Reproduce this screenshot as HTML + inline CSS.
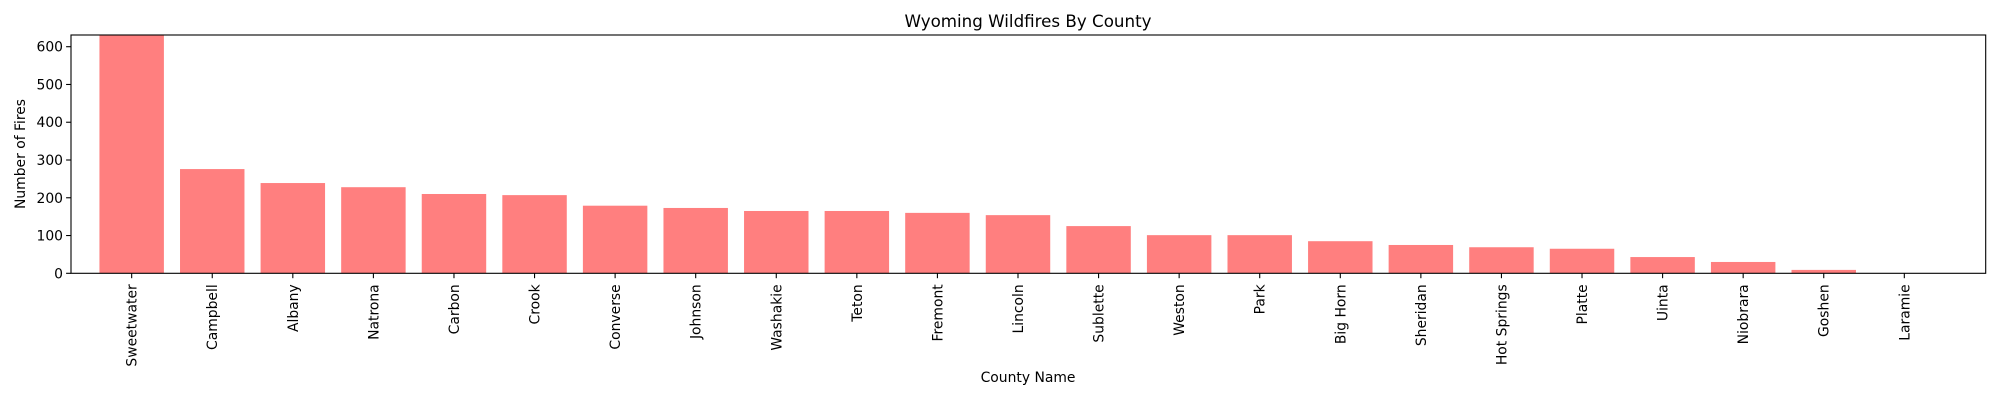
<!DOCTYPE html>
<html><head><meta charset="utf-8"><style>
html,body{margin:0;padding:0;background:#fff;}
svg{display:block;font-family:"DejaVu Sans","Liberation Sans",sans-serif;}
</style></head><body>
<svg id="chart" width="2000" height="400" viewBox="0 0 2000 400" xmlns="http://www.w3.org/2000/svg">
<rect width="2000" height="400" fill="#fff"/>
<text x="1028" y="27" font-size="16.7" text-anchor="middle" fill="#000">Wyoming Wildfires By County</text>
<g id="bars"></g>
<g id="yticks"></g>
<g id="xticks"></g>
<rect x="71" y="35" width="1914.7" height="238.3" fill="none" stroke="#000" stroke-width="1.1"/>
<text x="0" y="0" font-size="13.9" text-anchor="middle" transform="translate(25,154) rotate(-90)">Number of Fires</text>
<text x="1028" y="382" font-size="13.9" text-anchor="middle">County Name</text>
</svg>
<script>
const counties = ["Sweetwater","Campbell","Albany","Natrona","Carbon","Crook","Converse","Johnson","Washakie","Teton","Fremont","Lincoln","Sublette","Weston","Park","Big Horn","Sheridan","Hot Springs","Platte","Uinta","Niobrara","Goshen","Laramie"];
const fires = [631,276,239,228,210,207,179,173,165,165,160,154,125,101,101,85,75,69,65,43,30,9,0];
const yTickValues = [0,100,200,300,400,500,600];
const yTickLabels = ["0","100","200","300","400","500","600"];

const NS = "http://www.w3.org/2000/svg";
const plotL = 71, plotR = 1985.7, plotT = 35, plotB = 273.3;
const xMin = -0.753, xMax = 23.01;
const yMax = 631;
function xs(v){ return plotL + (v - xMin) / (xMax - xMin) * (plotR - plotL); }
function ys(v){ return plotB - v / yMax * (plotB - plotT); }

const bars = document.getElementById('bars');
const xt = document.getElementById('xticks');
const yt = document.getElementById('yticks');

counties.forEach((c, i) => {
  const v = Math.min(fires[i], yMax);
  const r = document.createElementNS(NS, 'rect');
  
  
  const x0 = xs(i - 0.4), x1 = xs(i + 0.4);
  r.setAttribute('x', x0);
  r.setAttribute('width', x1 - x0);
  r.setAttribute('y', ys(v));
  r.setAttribute('height', ys(0) - ys(v));
  r.setAttribute('fill', '#ff7f7f');
  bars.appendChild(r);

  const cx = xs(i);
  const tk = document.createElementNS(NS, 'line');
  
  
  tk.setAttribute('x1', cx); tk.setAttribute('x2', cx);
  tk.setAttribute('y1', plotB); tk.setAttribute('y2', plotB + 4.9);
  tk.setAttribute('stroke', '#000'); tk.setAttribute('stroke-width', '1.1');
  xt.appendChild(tk);

  const t = document.createElementNS(NS, 'text');
  
  
  t.setAttribute('font-size', '13.9');
  t.setAttribute('text-anchor', 'end');
  t.setAttribute('transform', 'translate(' + (cx + 5) + ',' + (plotB + 11) + ') rotate(-90)');
  t.textContent = c;
  xt.appendChild(t);
});

yTickValues.forEach((v, i) => {
  const y = ys(v);
  const tk = document.createElementNS(NS, 'line');
  
  
  tk.setAttribute('x1', plotL - 4.9); tk.setAttribute('x2', plotL);
  tk.setAttribute('y1', y); tk.setAttribute('y2', y);
  tk.setAttribute('stroke', '#000'); tk.setAttribute('stroke-width', '1.1');
  yt.appendChild(tk);
  const t = document.createElementNS(NS, 'text');
  
  
  t.setAttribute('font-size', '13.9');
  t.setAttribute('text-anchor', 'end');
  t.setAttribute('x', plotL - 8);
  t.setAttribute('y', y + 5);
  t.textContent = yTickLabels[i];
  yt.appendChild(t);
});
</script>
</body></html>
